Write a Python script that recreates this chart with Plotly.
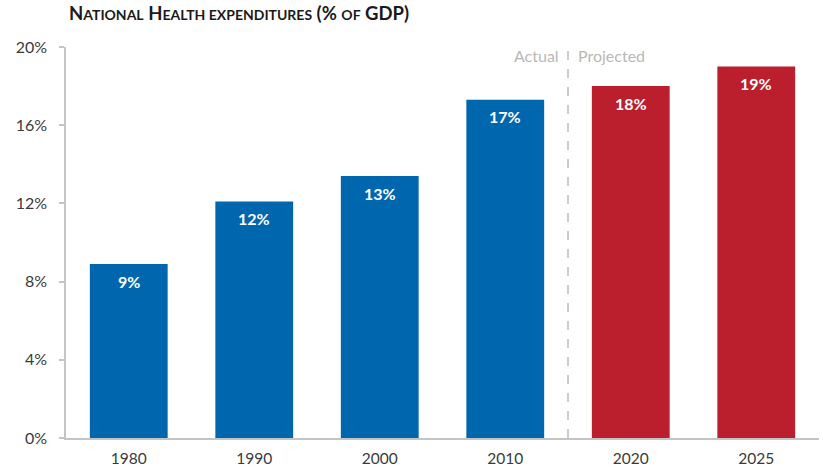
import plotly.graph_objects as go

# National health expenditures as a share of GDP
years = ["1980", "1990", "2000", "2010", "2020", "2025"]
share_of_gdp = [8.9, 12.1, 13.4, 17.3, 18.0, 19.0]
is_projected = [False, False, False, False, True, True]

y_ticks = [0, 4, 8, 12, 16, 20]
y_tick_labels = ["0%", "4%", "8%", "12%", "16%", "20%"]

BLUE = "#0066ae"
RED = "#bb1e2d"
FONT = "Lato"

bar_colors = [RED if p else BLUE for p in is_projected]

fig = go.Figure()
fig.add_trace(go.Bar(
    x=years,
    y=share_of_gdp,
    marker=dict(color=bar_colors, line=dict(width=0)),
    width=0.62,
    hoverinfo="skip",
))

# Value labels just inside the top of each bar (category index positions)
for i, v in enumerate(share_of_gdp):
    fig.add_annotation(
        x=i, y=v, xref="x", yref="y", text=f"<b>{round(v)}%</b>",
        xanchor="center", yanchor="middle", yshift=-17, showarrow=False,
        font=dict(family=FONT, size=16, color="white"),
    )

# Divider between actual and projected values
fig.add_shape(
    type="line", xref="x", yref="paper",
    x0=3.5, x1=3.5, y0=0, y1=1,
    line=dict(color="#cccccc", width=2, dash="dash"),
)
fig.add_annotation(
    x=3.5, y=1.0, xref="x", yref="paper", text="Actual",
    xanchor="right", yanchor="middle", xshift=-7, yshift=-8, showarrow=False,
    font=dict(family=FONT, size=16, color="#b8b8b8"),
)
fig.add_annotation(
    x=3.5, y=1.0, xref="x", yref="paper", text="Projected",
    xanchor="left", yanchor="middle", xshift=8, yshift=-8, showarrow=False,
    font=dict(family=FONT, size=16, color="#b8b8b8"),
)

# Small-caps heading
big, small = 18.5, 14
title_html = (
    f"<span style='font-size:{big}px'>N</span><span style='font-size:{small}px'>ATIONAL</span> "
    f"<span style='font-size:{big}px'>H</span><span style='font-size:{small}px'>EALTH EXPENDITURES</span> "
    f"<span style='font-size:{big}px'>(%</span> <span style='font-size:{small}px'>OF</span> "
    f"<span style='font-size:{big}px'>GDP)</span>"
)
fig.add_annotation(
    x=0, y=1, xref="paper", yref="paper", text=f"<b>{title_html}</b>",
    xanchor="left", yanchor="bottom", xshift=1, yshift=21, showarrow=False,
    font=dict(family=FONT, size=big, color="#1a1a1a"),
)

fig.update_layout(
    width=823, height=469,
    margin=dict(l=66, r=4, t=47, b=31),
    paper_bgcolor="white", plot_bgcolor="white",
    showlegend=False,
    font=dict(family=FONT, size=16, color="#3a3a3a"),
    xaxis=dict(
        type="category", range=[-0.5, 5.5], automargin=False,
        showline=True, linecolor="#c4c4c4", linewidth=1.5,
        ticks="", showgrid=False, ticklabelstandoff=6,
        tickfont=dict(family=FONT, size=15.5, color="#3a3a3a"),
    ),
    yaxis=dict(
        range=[0, 20], tickvals=y_ticks, ticktext=y_tick_labels, automargin=False,
        showline=True, linecolor="#c4c4c4", linewidth=1.5,
        ticks="outside", ticklen=5, tickcolor="#c4c4c4", tickwidth=1.5,
        showgrid=False, zeroline=False, ticklabelstandoff=9,
        tickfont=dict(family=FONT, size=16, color="#3a3a3a"),
    ),
)

fig.write_html("out.html")
